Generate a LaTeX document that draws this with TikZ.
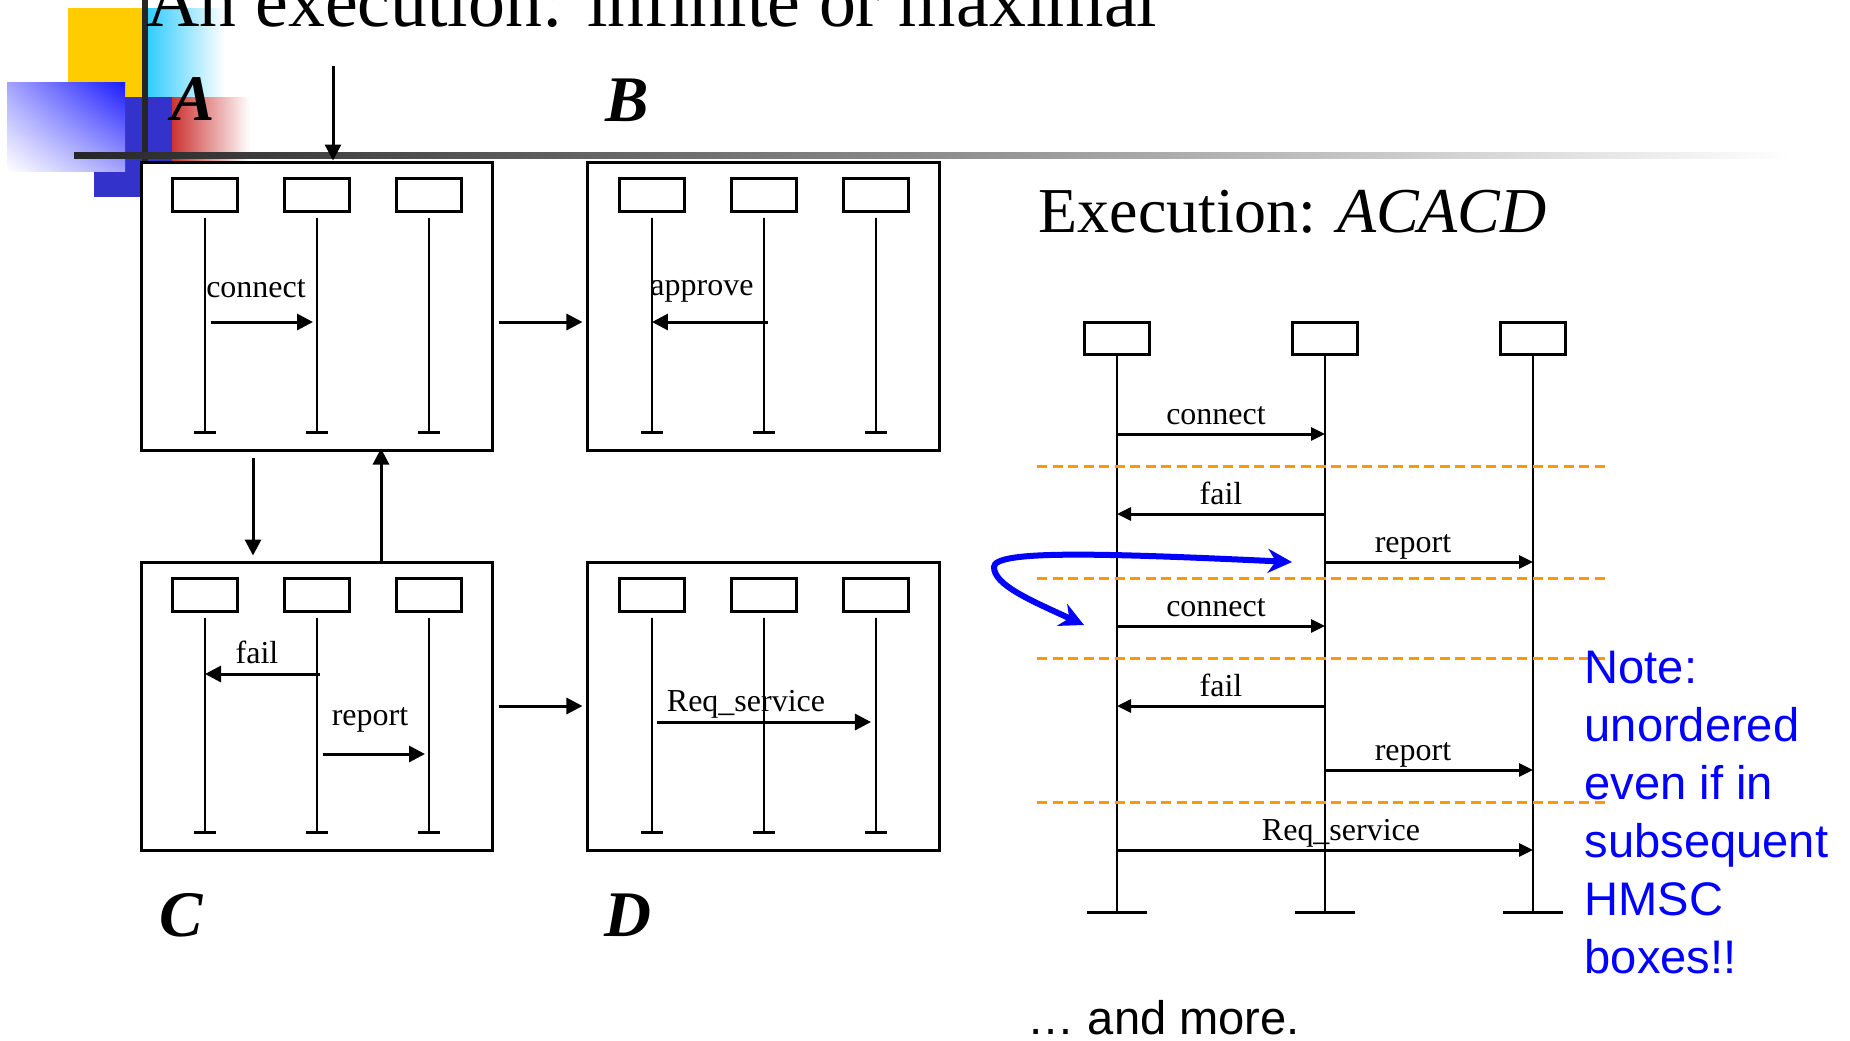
\documentclass[tikz,border=0pt]{standalone}
\usepackage{fontspec}
\setmainfont{Liberation Serif}
\newfontfamily\notefont{Liberation Sans}
\usepackage{tikz}
\usetikzlibrary{arrows.meta,positioning,calc,shadings}
\definecolor{slideYellow}{RGB}{255,204,0}
\definecolor{slideCyan}{RGB}{51,204,255}
\definecolor{slideBlue}{RGB}{51,51,204}
\definecolor{slideDeep}{RGB}{26,26,255}
\definecolor{slideRed}{RGB}{204,51,51}
\definecolor{cutOrange}{RGB}{255,153,0}
\tikzset{
  msc/.style={draw,line width=0.3mm,fill=white,minimum width=35.2mm,minimum height=28.8mm,inner sep=0pt},
  head/.style={draw,line width=0.3mm,minimum width=6.5mm,minimum height=3.3mm,inner sep=0pt},
  bighead/.style={head,minimum width=6.5mm,minimum height=3.2mm},
  life/.style={line width=0.25mm,shorten <=0.5mm,-{Bar[width=2.2mm,line width=0.3mm]}},
  biglife/.style={line width=0.25mm,-{Bar[width=6mm,line width=0.3mm]}},
  msg/.style={line width=0.3mm,-{Triangle[length=1.6mm,width=1.6mm]}},
  bigmsg/.style={line width=0.3mm,-{Triangle[length=1.4mm,width=1.3mm]}},
  arr/.style={line width=0.3mm,-{Triangle[length=1.6mm,width=1.6mm]}},
  lbl/.style={font=\fontsize{9.1pt}{11pt}\selectfont,anchor=base,inner sep=0pt,yshift=1mm},
  boxname/.style={font=\fontsize{18.5pt}{22pt}\selectfont\bfseries\itshape,anchor=base west,inner sep=0pt},
  cutline/.style={draw=cutOrange,line width=0.3mm,dash pattern=on 1mm off 0.55mm},
  swap/.style={draw=blue,line width=0.6mm,{Stealth[length=2.4mm,width=2.4mm]}-{Stealth[length=2.4mm,width=2.4mm]}},
}
\begin{document}
\begin{tikzpicture}[x=0.1mm,y=-0.1mm,node distance=10.9mm and 9.2mm]
  \useasboundingbox (0,0) rectangle (1850,1040);
  % slide corner
  \fill[slideYellow] (68,8) rectangle (142,97);
  \shade[left color=slideCyan,right color=white] (148,8) rectangle (225,97);
  \fill[slideBlue] (94,97) rectangle (172,197);
  \shade[upper right=slideDeep,lower left=white,upper left=slideDeep!40!white,lower right=slideDeep!40!white] (7,82) rectangle (125,171);
  \shade[left color=slideRed,right color=white] (172,97) rectangle (250,160);
  \fill[black!85] (142,0) rectangle (148,162);
  \shade[left color=black!85,right color=white,middle color=black!45] (74,152) rectangle (1790,158);
  \node[anchor=base west,inner sep=0pt,font=\fontsize{21pt}{25pt}\selectfont] (title) at (146,26) {An execution: infinite or maximal};

  \node[msc]                (A) at (317,306) {};
  \node[msc,right=of A]     (B) {};
  \node[msc,below=of A]     (C) {};
  \node[msc,right=of C]     (D) {};
  \node[boxname] (nA) at (171,120) {A};
  \node[boxname] (nB) at (605,121) {B};
  \node[boxname] (nC) at (159,936) {C};
  \node[boxname] (nD) at (604,936) {D};

  \foreach \f in {A,B,C,D}
    \foreach \i/\dx in {1/-112,2/0,3/112} {
      \node[head] (\f\i) at ($(\f)+(\dx,-111.5)$) {};
      \coordinate (e\f\i) at ($(\f)+(\dx,128)$);
      \draw[life] (\f\i.south) -- (e\f\i);
    }

  \draw[msg,shorten <=0.6mm,shorten >=0.4mm] (A1 |- 0,322) -- node[lbl,yshift=1.5mm,xshift=-0.5mm]{connect} (A2 |- 0,322);
  \draw[msg,shorten <=-0.4mm] (B2 |- 0,322) -- node[lbl,yshift=1.7mm,xshift=-0.6mm]{approve} (B1 |- 0,322);
  \draw[msg,shorten <=-0.3mm] (C2 |- 0,674) -- node[lbl,yshift=0.1mm,xshift=-0.4mm]{fail} (C1 |- 0,674);
  \draw[msg,shorten <=0.6mm,shorten >=0.4mm] (C2 |- 0,754) -- node[lbl,yshift=1.9mm,xshift=-0.3mm]{report} (C3 |- 0,754);
  \draw[msg,shorten <=0.5mm,shorten >=0.5mm] (D1 |- 0,722) -- node[lbl,yshift=0.1mm,xshift=-1.8mm]{Req\_service} (D3 |- 0,722);

  \coordinate (start) at (333,66);
  \draw[arr] (start) -- (start |- A.north);
  \draw[arr,shorten <=0.5mm,shorten >=0.4mm] (A.east |- 0,322) -- (B.west |- 0,322);
  \draw[arr,shorten <=0.5mm,shorten >=0.4mm] (C) -- (D);
  \draw[arr,shorten <=0.6mm,shorten >=0.5mm] (253,0 |- A.south) -- (253,0 |- C.north);
  \draw[arr,shorten <=-0.3mm,shorten >=-0.3mm] (381,0 |- C.north) -- (381,0 |- A.south);

  \node[anchor=base west,inner sep=0pt,font=\fontsize{18.2pt}{22pt}\selectfont] (exec) at (1038,232) {Execution: \textit{ACACD}};

  \foreach \i/\x in {1/1117,2/1325,3/1533} {
    \node[bighead] (L\i) at (\x,338) {};
    \coordinate (eL\i) at (\x,914);
    \draw[biglife] (L\i.south) -- (eL\i);
  }
  \draw[bigmsg] (L1 |- 0,434) -- node[lbl,xshift=-0.5mm]{connect} (L2 |- 0,434);
  \draw[bigmsg] (L2 |- 0,514) -- node[lbl]{fail} (L1 |- 0,514);
  \draw[bigmsg] (L2 |- 0,562) -- node[lbl,xshift=-1.6mm]{report} (L3 |- 0,562);
  \draw[bigmsg] (L1 |- 0,626) -- node[lbl,xshift=-0.5mm]{connect} (L2 |- 0,626);
  \draw[bigmsg] (L2 |- 0,706) -- node[lbl]{fail} (L1 |- 0,706);
  \draw[bigmsg] (L2 |- 0,770) -- node[lbl,xshift=-1.6mm]{report} (L3 |- 0,770);
  \draw[bigmsg] (L1 |- 0,850) -- node[lbl,xshift=1.6mm]{Req\_service} (L3 |- 0,850);

  \draw[cutline] (1037,466) -- (1607,466);
  \draw[cutline] (1037,578) -- (1607,578);
  \draw[cutline] (1037,658) -- (1607,658);
  \draw[cutline] (1037,802) -- (1607,802);

  \coordinate (swapA) at (1084,625);
  \coordinate (swapB) at (1292,562);
  \draw[swap] (swapA) .. controls (1030,600) and (994,585) .. (994,567) .. controls (994,550) and (1100,553) .. (swapB);

  \node[anchor=north west,inner sep=0pt,align=left,text=blue,font=\notefont\fontsize{13.4pt}{16.5pt}\selectfont] (note) at (1584,650)
    {Note:\\unordered\\even if in\\subsequent\\HMSC\\boxes!!};
  \node[anchor=base west,inner sep=0pt,font=\notefont\fontsize{13.4pt}{16pt}\selectfont] (more) at (1027,1034) {… and more.};
\end{tikzpicture}
\end{document}
